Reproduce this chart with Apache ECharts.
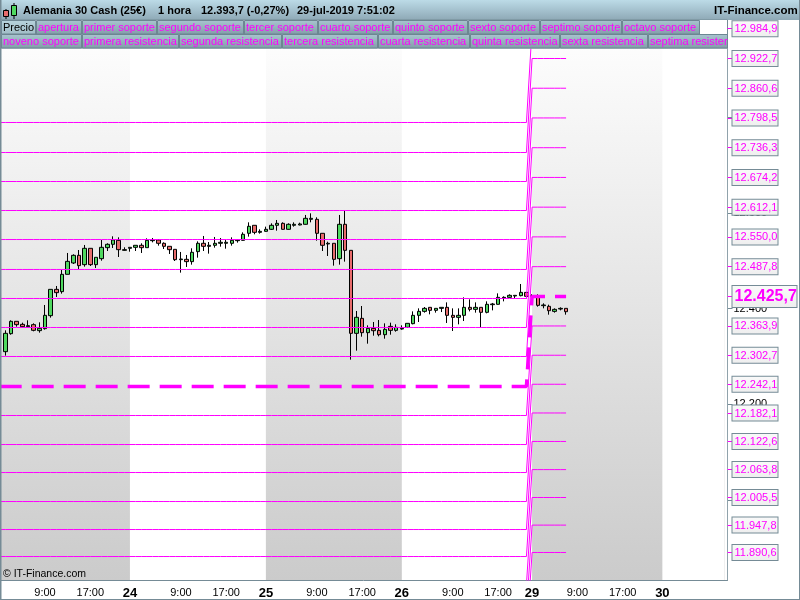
<!DOCTYPE html>
<html><head><meta charset="utf-8">
<style>html,body{margin:0;padding:0;background:#fff}#c{width:800px;height:600px}</style>
<script src="https://cdn.jsdelivr.net/npm/echarts@6/dist/echarts.min.js"></script>
</head><body><div id="c"></div>
<script>
// candles: [open, close, low, high], one per hour slot
const candles = [
[12310.2,12348.5,12301.9,12354.8],[12347.8,12373.6,12345.7,12375.7],[12373.6,12366.6,12362.4,12373.6],[12367.3,12362.4,12361.1,12370.8],
[12362.4,12364.5,12361.1,12375.7],[12366.6,12354.8,12352.7,12369.4],[12354.1,12359.0,12349.9,12371.5],[12358.3,12386.1,12356.2,12407.7],
[12385.4,12440.4,12381.3,12440.4],[12440.4,12433.5,12424.4,12447.4],[12435.6,12471.8,12431.4,12480.8],[12471.8,12498.9,12471.8,12516.4],
[12495.5,12511.5,12493.4,12513.6],[12511.5,12489.9,12482.9,12522.6],[12492.0,12526.1,12487.8,12533.1],[12526.1,12492.0,12489.2,12526.1],
[12492.0,12507.3,12485.0,12507.3],[12504.5,12528.2,12500.3,12543.5],[12527.5,12534.5,12520.5,12536.6],[12534.5,12543.5,12526.8,12551.2],
[12542.8,12523.3,12508.0,12549.1],[12521.9,12523.3,12521.2,12528.2],[12526.1,12528.2,12519.1,12528.2],[12528.2,12532.4,12520.5,12532.4],
[12532.4,12527.5,12516.4,12536.6],[12527.5,12542.8,12527.5,12547.0],[12542.1,12543.5,12538.6,12547.7],[12543.5,12536.6,12531.7,12544.9],
[12536.6,12530.3,12524.7,12538.6],[12530.3,12523.3,12514.3,12530.3],[12524.0,12502.4,12499.6,12524.0],[12502.4,12503.8,12475.3,12518.5],
[12503.1,12498.3,12487.1,12512.2],[12498.3,12517.8,12492.0,12526.1],[12519.2,12536.6,12506.6,12540.7],[12536.6,12530.3,12520.5,12551.9],
[12530.3,12532.4,12515.0,12539.3],[12532.4,12536.6,12527.5,12549.8],[12536.6,12538.7,12529.6,12547.7],[12536.6,12538.7,12525.4,12543.5],
[12536.6,12542.8,12531.7,12549.1],[12542.1,12543.5,12538.0,12543.5],[12542.8,12555.4,12542.1,12559.5],[12557.5,12572.1,12550.5,12580.4],
[12574.2,12559.5,12555.4,12574.2],[12559.5,12561.6,12556.8,12565.8],[12561.6,12565.8,12560.9,12571.4],[12565.8,12574.2,12564.4,12578.3],
[12574.2,12578.3,12563.0,12585.3],[12578.3,12565.8,12565.1,12580.4],[12565.8,12576.3,12565.1,12578.3],[12574.2,12576.3,12571.4,12580.4],
[12574.9,12577.0,12574.2,12579.7],[12576.3,12588.8,12575.6,12595.8],[12586.7,12588.8,12580.4,12599.2],[12586.7,12557.5,12542.1,12590.9],
[12557.5,12532.4,12520.5,12557.5],[12535.2,12536.6,12510.1,12540.0],[12536.6,12503.1,12489.9,12536.6],[12504.5,12576.3,12492.0,12595.8],
[12576.3,12521.9,12498.3,12604.1],[12521.9,12348.5,12293.5,12521.9],[12348.5,12382.0,12312.3,12395.2],[12379.8,12349.9,12341.5,12405.6],
[12349.9,12358.9,12326.9,12365.2],[12358.9,12354.0,12343.6,12372.2],[12354.7,12345.7,12342.2,12376.3],[12345.7,12356.8,12337.3,12369.4],
[12363.1,12354.7,12345.7,12370.8],[12354.7,12361.0,12352.0,12367.3],[12357.5,12358.9,12356.1,12365.2],[12361.0,12369.4,12361.0,12369.4],
[12368.7,12386.1,12367.3,12394.4],[12386.1,12394.4,12372.2,12400.7],[12394.4,12400.7,12391.7,12403.5],[12402.8,12396.5,12388.2,12402.8],
[12396.5,12400.7,12391.7,12400.7],[12400.7,12402.8,12393.0,12402.8],[12402.8,12386.1,12370.1,12413.2],[12386.1,12381.9,12353.4,12400.7],
[12381.9,12386.1,12367.3,12400.7],[12386.1,12402.8,12374.2,12423.7],[12402.8,12398.6,12394.4,12419.5],[12398.6,12402.8,12391.7,12413.2],
[12402.8,12392.4,12361.0,12402.8],[12392.4,12409.1,12390.3,12415.3],[12408.4,12409.8,12396.5,12412.0],[12409.1,12423.7,12408.4,12432.0],
[12422.3,12423.7,12415.3,12425.8],[12423.7,12427.9,12423.0,12430.0],[12426.5,12427.9,12422.3,12427.9],[12427.2,12434.1,12425.8,12451.6],
[12434.1,12425.8,12421.6,12434.1],[12427.2,12425.8,12422.3,12430.0],[12425.8,12407.0,12404.2,12430.0],[12406.3,12407.7,12400.7,12411.2],
[12404.9,12395.8,12387.5,12408.4],[12394.4,12398.6,12391.7,12400.7],[12399.3,12400.7,12396.5,12402.8],[12400.7,12393.7,12387.5,12400.7]
];
// pivot levels: value before Monday's first bar, and after
const levelNames = ['apertura','primer soporte','segundo soporte','tercer soporte','cuarto soporte','quinto soporte','sexto soporte','septimo soporte','octavo soporte','noveno soporte','primera resistencia','segunda resistencia','tercera resistencia','cuarta resistencia','quinta resistencia','sexta resistencia','septima resistencia','octava resistencia','novena resistencia'];
const levelsBefore = [12237.4,12176.8,12116.2,12057.7,11997.1,11938.6,11882.2,11824,11767,11711,12300.1,12360.7,12421.3,12481.9,12544.5,12605.1,12665.7,12726.3,12789.0];
const levelsAfter  = [12425.7,12363.9,12302.7,12242.1,12182.1,12122.6,12063.8,12005.5,11947.8,11890.6,12487.8,12550.0,12612.1,12674.2,12736.3,12798.5,12860.6,12922.7,12984.9];
const priceTicks = [12000,12200,12400,12600,12800];
const tickSlots  = [8,16,23,32,40,47,56,64,71,80,88,94,102,110,117];
const tickLabels = ['9:00','17:00','24','9:00','17:00','25','9:00','17:00','26','9:00','17:00','29','9:00','17:00','30'];
const whiteBands = [[23,47],[71,94],[117,128]];
const lastBeforeSlot = 93, lastSlot = 100, slotCount = 129;
const yMin = 11833.14, yMax = 13003.14;
const row1 = [['Precio',1,35],['apertura',36,81],['primer soporte',82,156],['segundo soporte',157,243],['tercer soporte',244,317],['cuarto soporte',318,392],['quinto soporte',393,467],['sexto soporte',468,539],['septimo soporte',540,621],['octavo soporte',622,699]];
const row2 = [['noveno soporte',1,81],['primera resistencia',82,178],['segunda resistencia',179,281],['tercera resistencia',282,377],['cuarta resistencia',378,469],['quinta resistencia',470,559],['sexta resistencia',560,647],['septima resister',648,727]];

const MAG = '#ff00ff', GREY = '#758b96', FONT = '"Liberation Sans"';
const categories = [];
for (let k = 0; k < slotCount; k++) { const n = tickSlots.indexOf(k); categories.push(n >= 0 ? tickLabels[n] : ''); }
const fmt = v => { const [a, b] = v.toFixed(1).split('.'); return a.slice(0, -3) + '.' + a.slice(-3) + ',' + b; };
const vgrad = (a, b) => ({type:'linear',x:0,y:0,x2:0,y2:1,colorStops:[{offset:0,color:a},{offset:1,color:b}]});

const gfx = [];
const rect = (x,y,w,h,fill,stroke,z) => gfx.push({type:'rect',silent:true,z:z||10,shape:{x,y,width:w,height:h},style:{fill,stroke:stroke||null,lineWidth:stroke?1:0}});
const text = (t,x,y,font,fill) => gfx.push({type:'text',silent:true,z:12,x,y,style:{text:t,font,fill,verticalAlign:'middle'}});
rect(0,0,800,20,vgrad('#bcdbe7','#8ea9b6'));
rect(0,19.5,727.5,0.9,GREY);
rect(0,20,727,14,'#ffffff');
rect(0,34,727,14,vgrad('#a3bfca','#7f9aa6'));
[[row1,20.5,13.5],[row2,34.5,13.5]].forEach(([row,y,h]) => row.forEach(([t,a,b]) => {
  rect(a+0.5,y,b-a,h,t==='Precio'?vgrad('#b7d3dc','#a0bcc6'):vgrad('#a9c5d0','#829da9'),'#6d8692',11);
  text(t,a+2,y+7,'11px '+FONT,t==='Precio'?'#000':MAG);
}));
rect(0,48,727,0.8,'#9fb2bb');
const titleFont = 'bold 11px '+FONT;
text('Alemania 30 Cash (25€)',23,11,titleFont,'#000');
text('1 hora',158,11,titleFont,'#000');
text('12.393,7 (-0,27%)',201,11,titleFont,'#000');
text('29-jul-2019 7:51:02',297,11,titleFont,'#000');
text('IT-Finance.com',714,11,'bold 11.5px '+FONT,'#000');
text('© IT-Finance.com',3,574,'10.5px '+FONT,'#000');
// window icon
rect(5.5,9,1,10,'#000',null,12);rect(3.5,10.5,5,6,'#e86c6c','#000',12);
rect(13.5,3,1,16,'#000',null,12);rect(11.5,5.5,5,10,'#4fd860','#000',12);
// frame
rect(724.9,48,2.3,532,'#ffffff',null,1);
rect(0,0,1.5,600,GREY);
rect(0,599,800,1,GREY);
rect(799,0,1,600,GREY);

const levelSeries = levelNames.map((name,i) => {
  const data = [];
  for (let k = 0; k <= lastSlot; k++) data.push(k <= lastBeforeSlot ? levelsBefore[i] : levelsAfter[i]);
  return {name,type:'line',data,showSymbol:false,symbol:'none',silent:true,z:3,
    lineStyle:i===0?{color:MAG,width:3.5,type:[22,10]}:{color:MAG,width:1}};
});

const boxBg = vgrad('#fafafa','#eeeeee');
const chart = echarts.init(document.getElementById('c'),null,{renderer:'canvas'});
chart.setOption({
  animation:false,
  backgroundColor:'#ffffff',
  graphic:{elements:gfx},
  grid:{left:-3.17,top:20,width:730.67,height:560,show:true,borderWidth:0,outerBoundsMode:'none',containLabel:false,backgroundColor:vgrad('#ffffff','#cbcbcb')},
  xAxis:{type:'category',data:categories,boundaryGap:true,
    axisLine:{lineStyle:{color:GREY,width:1}},
    axisTick:{alignWithLabel:true,length:4,lineStyle:{color:GREY},interval:i=>categories[i]!==''},
    splitLine:{show:false},
    axisLabel:{interval:i=>categories[i]!=='',margin:7,
      formatter:v=>v.length===2?'{d|'+v+'}':'{t|'+v+'}',
      rich:{d:{fontFamily:FONT,fontSize:13,fontWeight:'bold',color:'#000'},t:{fontFamily:FONT,fontSize:11,color:'#000'}}}},
  yAxis:[
    {type:'value',position:'right',min:yMin,max:yMax,splitLine:{show:false},
     axisLine:{show:true,lineStyle:{color:GREY,width:1}},
     axisTick:{show:true,length:5,lineStyle:{color:GREY},customValues:priceTicks},
     axisLabel:{margin:6,fontFamily:FONT,fontSize:11,color:'#000',customValues:priceTicks,formatter:v=>fmt(v).slice(0,-2)}},
    {type:'value',position:'right',min:yMin,max:yMax,splitLine:{show:false},
     axisLine:{show:false},
     axisTick:{show:true,length:5,lineStyle:{color:MAG},customValues:levelsAfter},
     axisLabel:{margin:5,customValues:levelsAfter,
       formatter:v=>(v===levelsAfter[0]?'{big|':'{box|')+fmt(v)+'}',
       rich:{
        box:{fontFamily:FONT,fontSize:11,color:MAG,backgroundColor:boxBg,borderColor:GREY,borderWidth:1,padding:[2,1,1,2],width:42,height:12,lineHeight:12},
        big:{fontFamily:FONT,fontSize:16,fontWeight:'bold',color:MAG,backgroundColor:boxBg,borderColor:GREY,borderWidth:1,padding:[2,1,1,2],width:61,height:18,lineHeight:18}
       }}}
  ],
  series:[
    {type:'line',data:[],silent:true,z:1,symbol:'none',
     markArea:{silent:true,itemStyle:{color:'#ffffff',opacity:1},
       data:whiteBands.map(b=>[{xAxis:b[0],yAxis:yMax},{xAxis:b[1],yAxis:yMin}])}},
    {type:'candlestick',z:2,silent:true,barWidth:4,
     data:[['-','-','-','-']].concat(candles),
     itemStyle:{color:'#4fd860',color0:'#e86c6c',borderColor:'#000',borderColor0:'#000',borderWidth:1}},
    ...levelSeries
  ]
});
</script></body></html>
